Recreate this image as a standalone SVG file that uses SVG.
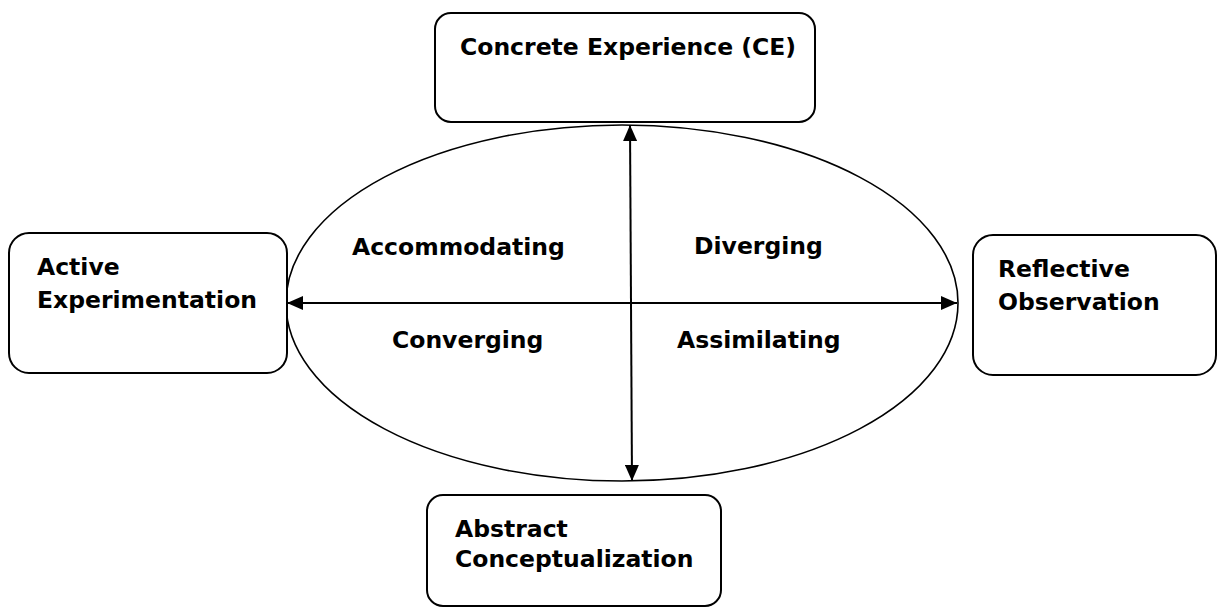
<svg xmlns="http://www.w3.org/2000/svg" width="1218" height="608" viewBox="0 0 1218 608">
<defs>
<marker id="ah" viewBox="0 0 16 14" refX="16" refY="7" markerWidth="16" markerHeight="14" markerUnits="userSpaceOnUse" orient="auto-start-reverse">
<path d="M0,0 L16,7 L0,14 Z" fill="#000"/>
</marker>
</defs>
<style>
.box{fill:#fff;stroke:#000;stroke-width:2}
.lbl{font-family:"DejaVu Sans",Verdana,sans-serif;font-weight:bold;font-size:23.5px;fill:#000}
.ax{stroke:#000;stroke-width:2;fill:none}
</style>
<rect width="1218" height="608" fill="#fff"/>
<g id="cycle">
<ellipse cx="622" cy="303" rx="336" ry="178" fill="#fff" stroke="#000" stroke-width="1.6"/>
</g>
<g id="node-ce">
<rect class="box" x="435" y="13" width="380" height="109" rx="16"/>
<text class="lbl" x="460" y="55">Concrete Experience (CE)</text>
</g>
<g id="node-ae">
<rect class="box" x="9" y="233" width="278" height="140" rx="20"/>
<text class="lbl" x="37" y="275">Active</text>
<text class="lbl" x="37" y="308">Experimentation</text>
</g>
<g id="node-ro">
<rect class="box" x="973" y="235" width="243" height="140" rx="20"/>
<text class="lbl" x="998" y="277">Reflective</text>
<text class="lbl" x="998" y="310">Observation</text>
</g>
<g id="node-ac">
<rect class="box" x="427" y="495" width="294" height="111" rx="16"/>
<text class="lbl" x="455" y="537">Abstract</text>
<text class="lbl" x="455" y="567">Conceptualization</text>
</g>
<g id="connectors">
<line class="ax" x1="630" y1="125" x2="632" y2="481" marker-start="url(#ah)" marker-end="url(#ah)"/>
<line class="ax" x1="287" y1="303" x2="957" y2="303" marker-start="url(#ah)" marker-end="url(#ah)"/>
</g>
<g id="quadrants">
<text class="lbl" x="352" y="255">Accommodating</text>
<text class="lbl" x="694" y="254">Diverging</text>
<text class="lbl" x="392" y="348">Converging</text>
<text class="lbl" x="677" y="348">Assimilating</text>
</g>
</svg>
